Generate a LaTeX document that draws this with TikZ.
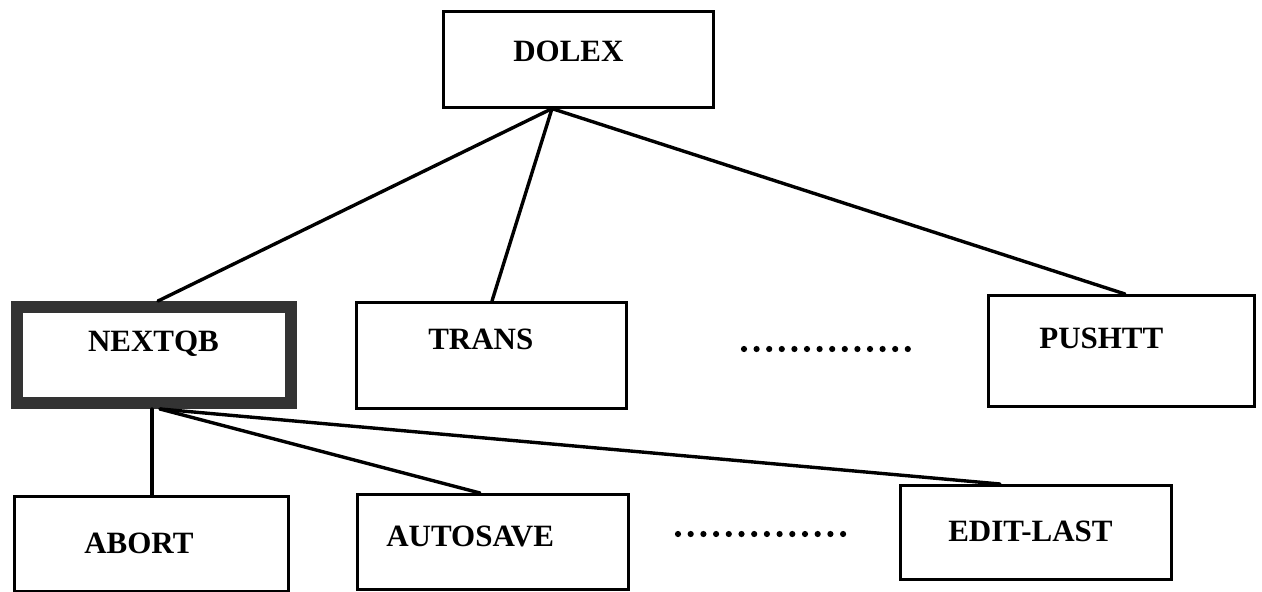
\documentclass[tikz,border=0pt]{standalone}
\usepackage{fontspec}
\setmainfont{Liberation Serif}
\tikzset{
  box/.style={draw=black, line width=2.6pt, rectangle, align=left, inner ysep=0pt,
    font=\fontsize{31}{33}\selectfont\bfseries},
  heavybox/.style={draw=black!80, line width=12pt},
  link/.style={draw=black, line width=3.4pt, line cap=round},
  dotmark/.style={fill=black}
}
\newcommand{\treebox}[9][]{%
  \pgfmathsetmacro{\tbw}{#5-#3}%
  \pgfmathsetmacro{\tbh}{#6-#4}%
  \pgfmathsetmacro{\tbt}{\tbw-2*#7}%
  \pgfmathsetmacro{\tbd}{\tbh-#8}%
  \node[box,#1,anchor=north west,minimum width=\tbw pt,minimum height=\tbh pt,
        inner xsep=#7pt,text width=\tbt pt,text height=#8pt,text depth=\tbd pt]
        (#2) at (#3,#4) {\mbox{#9}};}
\begin{document}
\begin{tikzpicture}[x=1pt,y=-1pt]
\useasboundingbox (0,0) rectangle (1262,592);
% boxes
\treebox{dolex}{442}{10}{712}{106}{70}{50}{DOLEX}
\treebox[heavybox]{nextqb}{11}{301}{285}{397}{71}{44}{NEXTQB}
\treebox{trans}{355}{301}{625}{407}{72}{47}{TRANS}
\treebox{pushtt}{987}{294}{1253}{405}{51}{53}{PUSHTT}
\treebox{abort}{13}{495}{287}{590}{70}{57}{ABORT}
\treebox{autosave}{356}{493}{627}{588}{29}{52}{AUTOSAVE}
\treebox{editlast}{899}{484}{1170}{578}{48}{56}{EDIT-LAST}
% connectors from DOLEX
\draw[link] ([xshift=110pt]dolex.south west) -- ([xshift=147pt]nextqb.north west);
\draw[link] ([xshift=110pt]dolex.south west) -- ([xshift=137pt]trans.north west);
\draw[link] ([xshift=110pt]dolex.south west) -- ([xshift=138pt]pushtt.north west);
% connectors from NEXTQB
\draw[link] ([xshift=141pt]nextqb.south west) -- ([xshift=139pt]abort.north west);
\draw[link] ([xshift=149pt]nextqb.south west) -- ([xshift=124pt]autosave.north west);
\draw[link] ([xshift=149pt]nextqb.south west) -- ([xshift=101pt]editlast.north west);
% ellipsis dots
\foreach \i in {0,...,13} {
  \fill[dotmark] (744+12.6*\i,349) circle (3.1pt);
  \fill[dotmark] (678+12.7*\i,534) circle (3.1pt);
}
\end{tikzpicture}
\end{document}
